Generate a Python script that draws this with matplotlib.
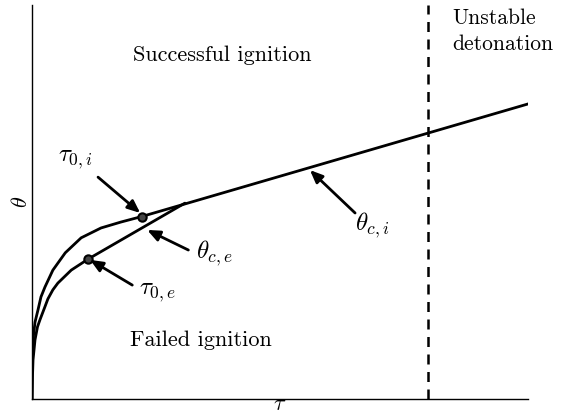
import matplotlib
matplotlib.use("Agg")
import matplotlib.pyplot as plt

plt.rcParams['mathtext.fontset'] = 'cm'
plt.rcParams['font.family'] = 'cmr10'
plt.rcParams['axes.formatter.use_mathtext'] = True

# points (x = tau, y = theta, both scaled 0..1)
upper_x = [0, 0, 0.001, 0.003, 0.006, 0.012, 0.018, 0.026, 0.042, 0.067, 0.099, 0.139, 0.179, 0.221]
upper_y = [0, 0.074, 0.124, 0.162, 0.195, 0.226, 0.259, 0.284, 0.327, 0.371, 0.409, 0.434, 0.449, 0.463]
lower_x = [0, 0.001, 0.002, 0.006, 0.011, 0.016, 0.026, 0.032, 0.042, 0.052, 0.079, 0.113]
lower_y = [0, 0.061, 0.099, 0.150, 0.183, 0.201, 0.234, 0.254, 0.277, 0.294, 0.327, 0.355]
crit_i_x = [0.221, 1.0]
crit_i_y = [0.463, 0.749]
crit_e_x = [0.113, 0.308]
crit_e_y = [0.355, 0.497]
tau_unstable = 0.798

fig = plt.figure(figsize=(5.62, 4.16), dpi=100)
ax = fig.add_axes([0.057, 0.041, 0.883, 0.947])

kw = dict(color='k', lw=2.0, solid_joinstyle='round', solid_capstyle='round')
ax.plot(upper_x, upper_y, **kw)
ax.plot(lower_x, lower_y, **kw)
ax.plot(crit_i_x, crit_i_y, **kw)
ax.plot(crit_e_x, crit_e_y, **kw)
ax.plot([upper_x[-1]], [upper_y[-1]], 'o', ms=6, mfc='#444444', mec='k', mew=1.5)
ax.plot([lower_x[-1]], [lower_y[-1]], 'o', ms=6, mfc='#444444', mec='k', mew=1.5)
ax.axvline(tau_unstable, color='k', lw=1.8, ls=(0, (4, 3)))

arrow = dict(arrowstyle='-|>,head_length=0.75,head_width=0.32', color='k', lw=2.0,
             shrinkA=0, shrinkB=0)
ax.annotate('', xy=(0.218, 0.472), xytext=(0.133, 0.563), arrowprops=arrow)
ax.annotate('', xy=(0.117, 0.353), xytext=(0.202, 0.289), arrowprops=arrow)
ax.annotate('', xy=(0.232, 0.429), xytext=(0.315, 0.378), arrowprops=arrow)
ax.annotate('', xy=(0.560, 0.581), xytext=(0.651, 0.472), arrowprops=arrow)

ax.text(0.087, 0.607, r'$\tau_{0,i}$', fontsize=18, ha='center', va='center')
ax.text(0.252, 0.269, r'$\tau_{0,e}$', fontsize=18, ha='center', va='center')
ax.text(0.368, 0.370, r'$\theta_{c,e}$', fontsize=18, ha='center', va='center')
ax.text(0.685, 0.442, r'$\theta_{c,i}$', fontsize=18, ha='center', va='center')

ax.text(0.383, 0.873, 'Successful ignition', fontsize=16, ha='center', va='center')
ax.text(0.341, 0.150, 'Failed ignition', fontsize=16, ha='center', va='center')
ax.text(0.847, 0.99, 'Unstable\ndetonation', fontsize=15.5, ha='left', va='top',
        linespacing=1.4)

ax.set_xlabel(r'$\tau$', fontsize=16, labelpad=-3)
ax.set_ylabel(r'$\theta$', fontsize=16, labelpad=1)
ax.set_xlim(0, 1)
ax.set_ylim(0, 1)
ax.set_xticks([])
ax.set_yticks([])
ax.spines['top'].set_visible(False)
ax.spines['right'].set_visible(False)
ax.spines['left'].set_linewidth(1.0)
ax.spines['bottom'].set_linewidth(1.0)

fig.savefig('out.png', dpi=100)
